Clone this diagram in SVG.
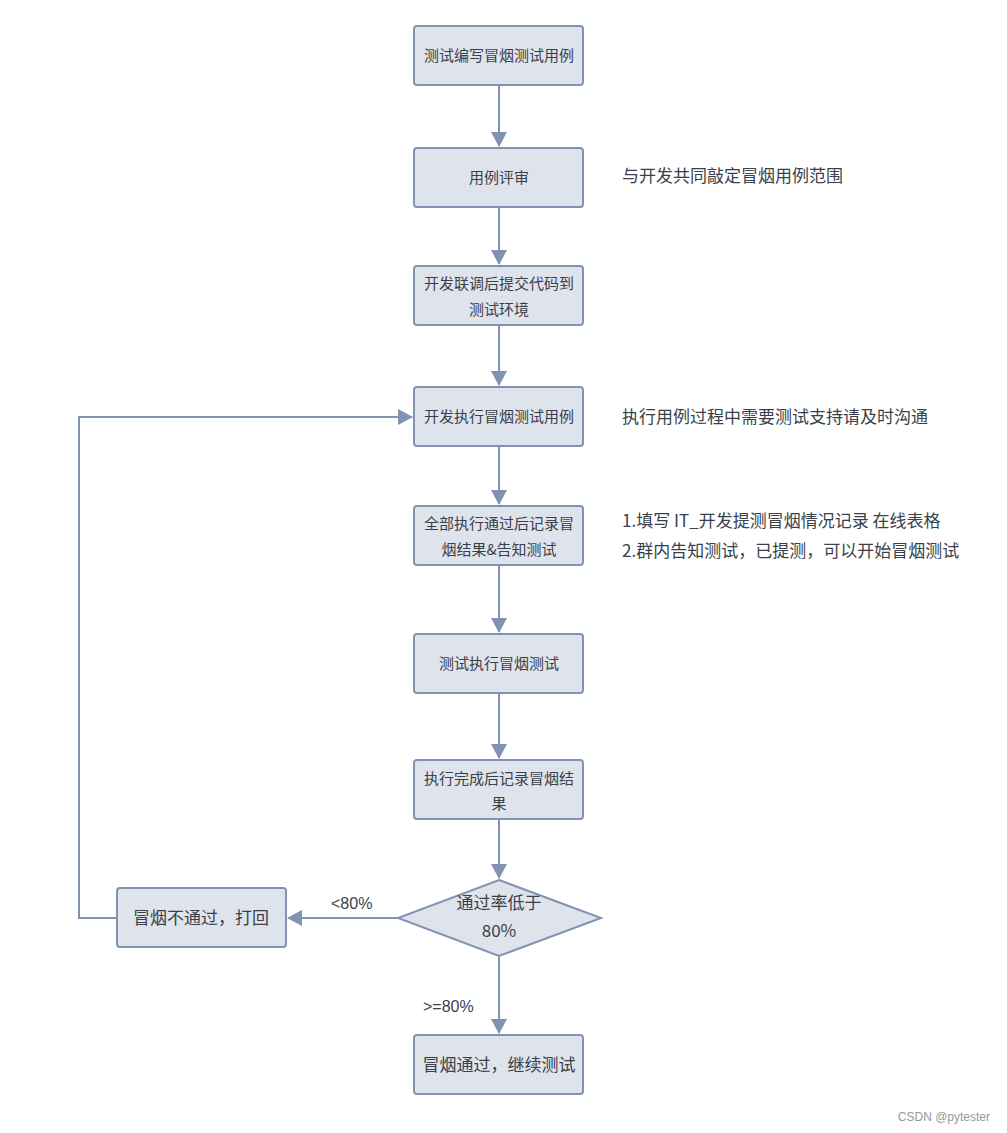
<svg xmlns="http://www.w3.org/2000/svg" width="1007" height="1133" viewBox="0 0 1007 1133">
<style>
.box{fill:#dfe3ec;stroke:#8292b4;stroke-width:2}
.t{font-family:"Noto Sans CJK SC","Liberation Sans",sans-serif;font-size:15px;fill:#3a3f4a;text-anchor:middle}
.b{font-size:17px}
.s{font-family:"Noto Sans CJK SC","Liberation Sans",sans-serif;font-size:17px;fill:#3a3f4a}
.l{font-family:"Liberation Sans","Noto Sans CJK SC",sans-serif;font-size:16px;fill:#3a3f4a}
.c{fill:none;stroke:#8292b4;stroke-width:2}
</style>
<defs>
<marker id="ah" markerWidth="16" markerHeight="16" refX="14" refY="8" orient="auto" markerUnits="userSpaceOnUse">
<path d="M0,0 L15,8 L0,16 Z" fill="#8292b4"/>
</marker>
</defs>
<g id="connectors">
<path class="c" d="M499,86 V146" marker-end="url(#ah)"/>
<path class="c" d="M499,208 V264" marker-end="url(#ah)"/>
<path class="c" d="M499,326 V385" marker-end="url(#ah)"/>
<path class="c" d="M499,447 V504" marker-end="url(#ah)"/>
<path class="c" d="M499,566 V632" marker-end="url(#ah)"/>
<path class="c" d="M499,694 V758" marker-end="url(#ah)"/>
<path class="c" d="M499,820 V878" marker-end="url(#ah)"/>
<path class="c" d="M398,918 H288" marker-end="url(#ah)"/>
<path class="c" d="M499,957 V1033" marker-end="url(#ah)"/>
<path class="c" d="M117,918 H79 V417 H412" marker-end="url(#ah)"/>
<text class="l" x="331" y="909">&lt;80%</text>
<text class="l" x="423" y="1012">&gt;=80%</text>
</g>
<g id="n1"><rect class="box" x="414" y="26" width="169" height="59" rx="3"/><text class="t" x="499" y="61">测试编写冒烟测试用例</text></g>
<g id="n2"><rect class="box" x="414" y="148" width="169" height="59" rx="3"/><text class="t" x="499" y="183">用例评审</text></g>
<g id="n3"><rect class="box" x="414" y="266" width="169" height="59" rx="3"/><text class="t" x="499" y="289">开发联调后提交代码到</text><text class="t" x="499" y="315">测试环境</text></g>
<g id="n4"><rect class="box" x="414" y="387" width="169" height="59" rx="3"/><text class="t" x="499" y="422">开发执行冒烟测试用例</text></g>
<g id="n5"><rect class="box" x="414" y="506" width="169" height="59" rx="3"/><text class="t" x="499" y="529">全部执行通过后记录冒</text><text class="t" x="499" y="555">烟结果&amp;告知测试</text></g>
<g id="n6"><rect class="box" x="414" y="634" width="169" height="59" rx="3"/><text class="t" x="499" y="669">测试执行冒烟测试</text></g>
<g id="n7"><rect class="box" x="414" y="760" width="169" height="59" rx="3"/><text class="t" x="499" y="784">执行完成后记录冒烟结</text><text class="t" x="499" y="809">果</text></g>
<g id="d1"><path class="box" d="M499,880 L601,918 L499,956 L398,918 Z"/><text class="t b" x="499" y="909">通过率低于</text><text class="t b" x="499" y="937">80%</text></g>
<g id="n8"><rect class="box" x="117" y="888" width="169" height="59" rx="3"/><text class="t b" x="201" y="924">冒烟不通过，打回</text></g>
<g id="n9"><rect class="box" x="414" y="1035" width="169" height="59" rx="3"/><text class="t b" x="499" y="1071">冒烟通过，继续测试</text></g>
<g id="notes">
<text class="s" x="622" y="182">与开发共同敲定冒烟用例范围</text>
<text class="s" x="622" y="423">执行用例过程中需要测试支持请及时沟通</text>
<text class="s" x="622" y="527">1.填写 IT_开发提测冒烟情况记录 在线表格</text>
<text class="s" x="622" y="557">2.群内告知测试，已提测，可以开始冒烟测试</text>
<text x="990" y="1121" font-family="Liberation Sans,sans-serif" font-size="12" fill="#999" text-anchor="end">CSDN @pytester</text>
</g>
</svg>
